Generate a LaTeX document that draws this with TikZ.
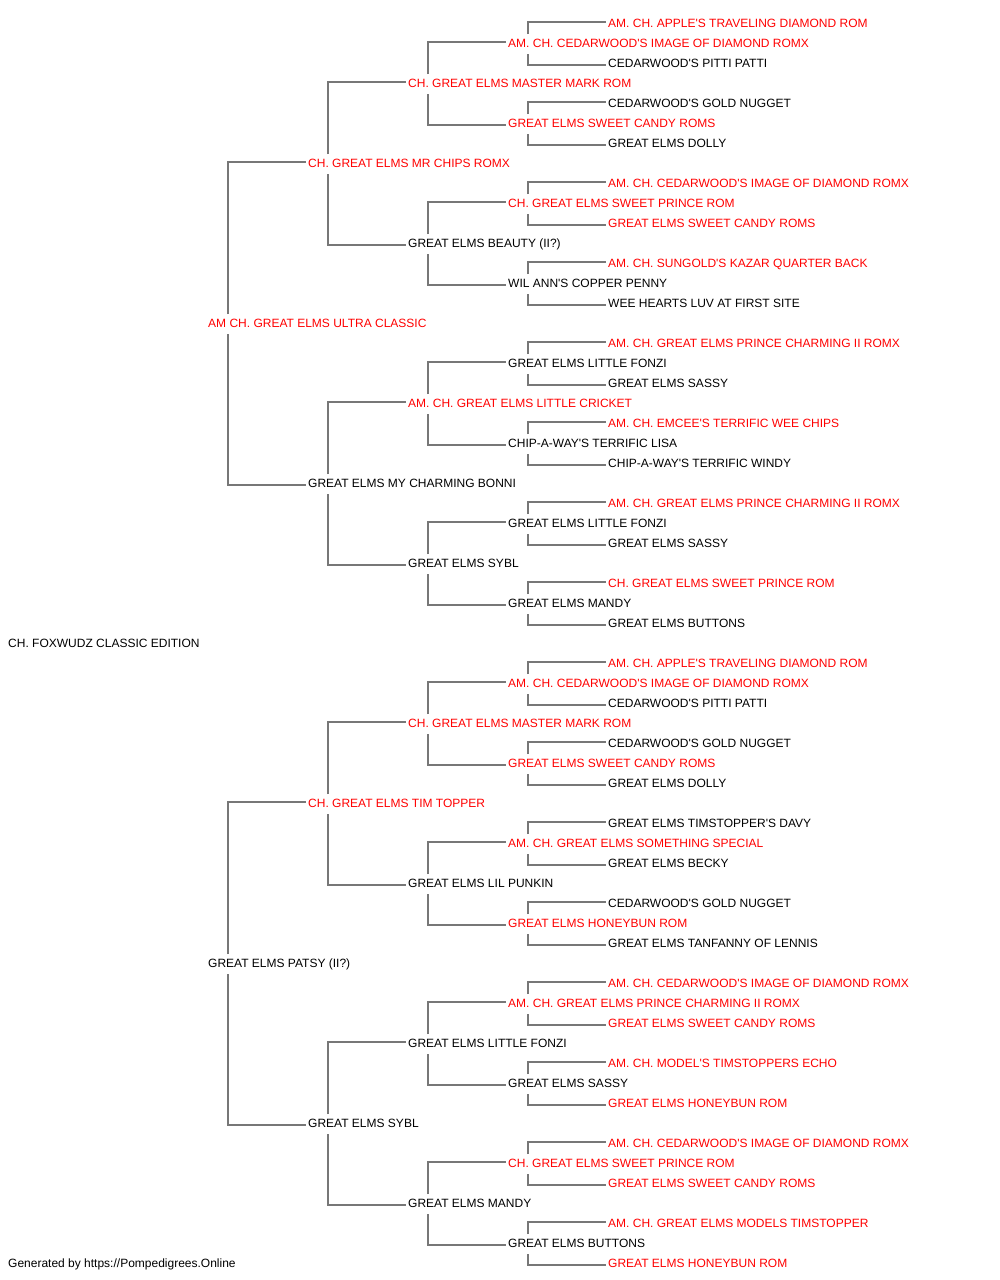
\documentclass[tikz,border=0pt]{standalone}
\usepackage{fontspec}
\newfontfamily\pf{Liberation Sans}
\usetikzlibrary{calc}
\definecolor{pred}{HTML}{FF0000}
\definecolor{pblack}{HTML}{000000}
\definecolor{pline}{HTML}{777777}
\tikzset{
  pnode/.style={anchor=west, inner sep=0pt, text height=9pt, text depth=0pt, font=\pf\fontsize{12pt}{14pt}\selectfont},
  conn/.style={draw=pline, line width=1.4pt}
}
\begin{document}
\begin{tikzpicture}[x=1pt,y=-1pt]
\path[use as bounding box, fill=white] (0,0) rectangle (1000,1280);
% root
\node[pnode, text=pblack] (r) at (8,643) {CH. FOXWUDZ CLASSIC EDITION};
% generation 1
\foreach \c/\t [count=\i from 0] in {pred/AM CH. GREAT ELMS ULTRA CLASSIC, pblack/GREAT ELMS PATSY (II?)}
  \node[pnode, text=\c] (a\i) at (208,{323+640*\i}) {\t};
% generation 2
\foreach \c/\t [count=\i from 0] in {pred/CH. GREAT ELMS MR CHIPS ROMX, pblack/GREAT ELMS MY CHARMING BONNI, pred/CH. GREAT ELMS TIM TOPPER, pblack/GREAT ELMS SYBL}
  \node[pnode, text=\c] (b\i) at (308,{163+320*\i}) {\t};
% generation 3
\foreach \c/\t [count=\i from 0] in {pred/CH. GREAT ELMS MASTER MARK ROM, pblack/GREAT ELMS BEAUTY (II?), pred/AM. CH. GREAT ELMS LITTLE CRICKET, pblack/GREAT ELMS SYBL, pred/CH. GREAT ELMS MASTER MARK ROM, pblack/GREAT ELMS LIL PUNKIN, pblack/GREAT ELMS LITTLE FONZI, pblack/GREAT ELMS MANDY}
  \node[pnode, text=\c] (c\i) at (408,{83+160*\i}) {\t};
% generation 4
\foreach \c/\t [count=\i from 0] in {
  pred/AM. CH. CEDARWOOD'S IMAGE OF DIAMOND ROMX,
  pred/GREAT ELMS SWEET CANDY ROMS,
  pred/CH. GREAT ELMS SWEET PRINCE ROM,
  pblack/WIL ANN'S COPPER PENNY,
  pblack/GREAT ELMS LITTLE FONZI,
  pblack/CHIP-A-WAY'S TERRIFIC LISA,
  pblack/GREAT ELMS LITTLE FONZI,
  pblack/GREAT ELMS MANDY,
  pred/AM. CH. CEDARWOOD'S IMAGE OF DIAMOND ROMX,
  pred/GREAT ELMS SWEET CANDY ROMS,
  pred/AM. CH. GREAT ELMS SOMETHING SPECIAL,
  pred/GREAT ELMS HONEYBUN ROM,
  pred/AM. CH. GREAT ELMS PRINCE CHARMING II ROMX,
  pblack/GREAT ELMS SASSY,
  pred/CH. GREAT ELMS SWEET PRINCE ROM,
  pblack/GREAT ELMS BUTTONS}
  \node[pnode, text=\c] (d\i) at (508,{43+80*\i}) {\t};
% generation 5
\foreach \c/\t [count=\i from 0] in {
  pred/AM. CH. APPLE'S TRAVELING DIAMOND ROM,
  pblack/CEDARWOOD'S PITTI PATTI,
  pblack/CEDARWOOD'S GOLD NUGGET,
  pblack/GREAT ELMS DOLLY,
  pred/AM. CH. CEDARWOOD'S IMAGE OF DIAMOND ROMX,
  pred/GREAT ELMS SWEET CANDY ROMS,
  pred/AM. CH. SUNGOLD'S KAZAR QUARTER BACK,
  pblack/WEE HEARTS LUV AT FIRST SITE,
  pred/AM. CH. GREAT ELMS PRINCE CHARMING II ROMX,
  pblack/GREAT ELMS SASSY,
  pred/AM. CH. EMCEE'S TERRIFIC WEE CHIPS,
  pblack/CHIP-A-WAY'S TERRIFIC WINDY,
  pred/AM. CH. GREAT ELMS PRINCE CHARMING II ROMX,
  pblack/GREAT ELMS SASSY,
  pred/CH. GREAT ELMS SWEET PRINCE ROM,
  pblack/GREAT ELMS BUTTONS,
  pred/AM. CH. APPLE'S TRAVELING DIAMOND ROM,
  pblack/CEDARWOOD'S PITTI PATTI,
  pblack/CEDARWOOD'S GOLD NUGGET,
  pblack/GREAT ELMS DOLLY,
  pblack/GREAT ELMS TIMSTOPPER'S DAVY,
  pblack/GREAT ELMS BECKY,
  pblack/CEDARWOOD'S GOLD NUGGET,
  pblack/GREAT ELMS TANFANNY OF LENNIS,
  pred/AM. CH. CEDARWOOD'S IMAGE OF DIAMOND ROMX,
  pred/GREAT ELMS SWEET CANDY ROMS,
  pred/AM. CH. MODEL'S TIMSTOPPERS ECHO,
  pred/GREAT ELMS HONEYBUN ROM,
  pred/AM. CH. CEDARWOOD'S IMAGE OF DIAMOND ROMX,
  pred/GREAT ELMS SWEET CANDY ROMS,
  pred/AM. CH. GREAT ELMS MODELS TIMSTOPPER,
  pred/GREAT ELMS HONEYBUN ROM}
  \node[pnode, text=\c] (e\i) at (608,{23+40*\i}) {\t};
% footer
\node[pnode, text=pblack] (foot) at (8,1263) {Generated by https://Pompedigrees.Online};
% connectors
\foreach \p/\q/\n in {a/b/1, b/c/3, c/d/7, d/e/15}{
  \foreach \i in {0,...,\n}{
    \pgfmathtruncatemacro\ca{2*\i}
    \pgfmathtruncatemacro\cb{2*\i+1}
    \draw[conn] ($(\p\i.west)+(20,-9)$) |- ($(\q\ca.west)+(-2,-1)$);
    \draw[conn] ($(\p\i.west)+(20,11)$) |- ($(\q\cb.west)+(-2,2)$);
  }
}
\end{tikzpicture}
\end{document}
